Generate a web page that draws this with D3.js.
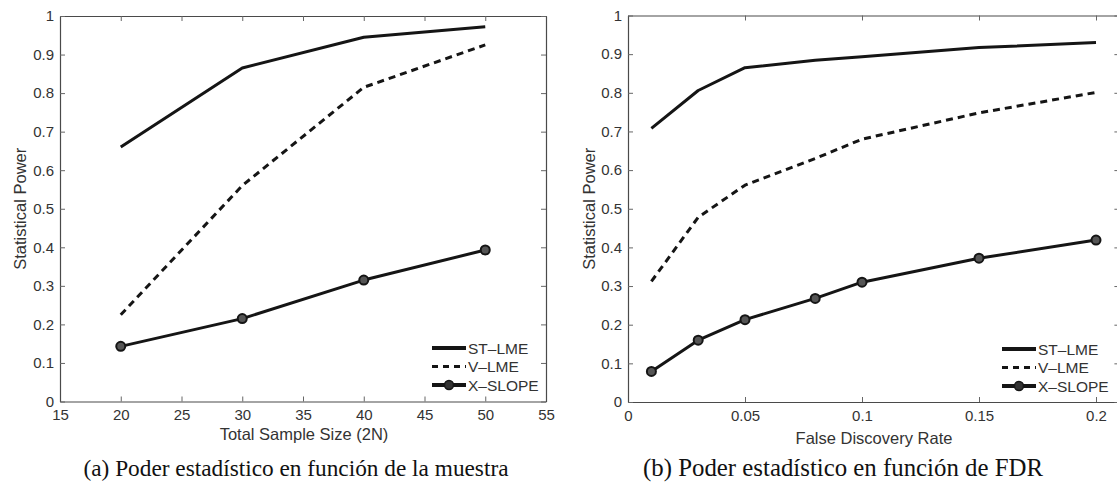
<!DOCTYPE html>
<html>
<head>
<meta charset="utf-8">
<script src="https://cdn.jsdelivr.net/npm/d3@7"></script>
<style>
  html, body { margin: 0; padding: 0; background: #fff; }
  svg { display: block; }
  .tick text { font-family: "Liberation Sans", Arial, sans-serif; font-size: 15px; fill: #333; }
  .axis-title { font-family: "Liberation Sans", Arial, sans-serif; font-size: 16.5px; fill: #333; }
  .legend text { font-family: "Liberation Sans", Arial, sans-serif; font-size: 15.5px; fill: #333; }
  .caption { font-family: "Liberation Serif", "DejaVu Serif", serif; fill: #111; }
</style>
</head>
<body>
<svg id="fig" width="1117" height="486"></svg>
<script>
// Panel (a): power against total sample size
const sampleSize = [20, 30, 40, 50];
const stLmeBySize = [0.66, 0.865, 0.945, 0.972];
const vLmeBySize = [0.225, 0.56, 0.815, 0.925];
const xSlopeBySize = [0.143, 0.215, 0.315, 0.393];

// Panel (b): power against false discovery rate
const fdrLevels = [0.01, 0.03, 0.05, 0.08, 0.1, 0.15, 0.2];
const stLmeByFdr = [0.708, 0.806, 0.865, 0.884, 0.893, 0.917, 0.930];
const vLmeByFdr = [0.312, 0.478, 0.561, 0.630, 0.680, 0.748, 0.801];
const xSlopeByFdr = [0.079, 0.160, 0.213, 0.268, 0.310, 0.372, 0.419];

// Tick labels
const sizeTicks = [15, 20, 25, 30, 35, 40, 45, 50, 55];
const fdrTicks = [0, 0.05, 0.1, 0.15, 0.2];
const powerTicks = [0, 0.1, 0.2, 0.3, 0.4, 0.5, 0.6, 0.7, 0.8, 0.9, 1];

const seriesNames = ["ST\u2013LME", "V\u2013LME", "X\u2013SLOPE"];
const axisTitles = { sizeX: "Total Sample Size (2N)", fdrX: "False Discovery Rate", y: "Statistical Power" };
const captions = ["(a) Poder estad\u00edstico en funci\u00f3n de la muestra", "(b) Poder estad\u00edstico en funci\u00f3n de FDR"];

const svg = d3.select("#fig");
const fmt = d3.format("~g");
const ink = "#151515";

function drawPanel(cfg) {
  const g = svg.append("g");
  const x = d3.scaleLinear().domain(cfg.xDomain).range(cfg.xRange);
  const y = d3.scaleLinear().domain([0, 1]).range(cfg.yRange);
  const [x0, x1] = cfg.xRange, [y0, y1] = cfg.yRange;

  // axes with inward ticks on all four sides
  const styleAxis = sel => {
    sel.selectAll(".domain").attr("stroke", "#4a4a4a").attr("stroke-width", 1.2);
    sel.selectAll(".tick line").attr("stroke", "#666").attr("stroke-width", 1);
  };
  g.append("g").attr("transform", `translate(0,${y0})`)
    .call(d3.axisBottom(x).tickValues(cfg.xTicks).tickFormat(fmt).tickSize(-5).tickSizeOuter(0).tickPadding(8))
    .call(styleAxis);
  g.append("g").attr("transform", `translate(0,${y1})`)
    .call(d3.axisTop(x).tickValues(cfg.xTicks).tickFormat("").tickSize(-5).tickSizeOuter(0))
    .call(styleAxis);
  g.append("g").attr("transform", `translate(${x0},0)`)
    .call(d3.axisLeft(y).tickValues(powerTicks).tickFormat(fmt).tickSize(-5).tickSizeOuter(0).tickPadding(6))
    .call(styleAxis);
  g.append("g").attr("transform", `translate(${x1},0)`)
    .call(d3.axisRight(y).tickValues(powerTicks).tickFormat("").tickSize(-5).tickSizeOuter(0))
    .call(styleAxis);

  // axis titles
  g.append("text").attr("class", "axis-title")
    .attr("x", cfg.xTitleX).attr("y", cfg.xTitleY).attr("text-anchor", "middle")
    .text(cfg.xTitle);
  g.append("text").attr("class", "axis-title")
    .attr("transform", `translate(${cfg.yTitleX},${(y0 + y1) / 2}) rotate(-90)`)
    .attr("text-anchor", "middle")
    .text(axisTitles.y);

  // series
  const line = d3.line().x(d => x(d[0])).y(d => y(d[1]));
  const zipped = vals => cfg.xs.map((v, i) => [v, vals[i]]);
  const styles = [
    { dash: null, marker: false },
    { dash: "7,5", marker: false },
    { dash: null, marker: true }
  ];
  cfg.series.forEach((vals, i) => {
    const pts = zipped(vals);
    g.append("path").datum(pts)
      .attr("d", line).attr("fill", "none").attr("stroke", ink)
      .attr("stroke-width", 3).attr("stroke-linejoin", "round")
      .attr("stroke-dasharray", styles[i].dash);
    if (styles[i].marker) {
      g.selectAll(null).data(pts).enter().append("circle")
        .attr("cx", d => x(d[0])).attr("cy", d => y(d[1])).attr("r", 4.5)
        .attr("fill", "#555").attr("stroke", ink).attr("stroke-width", 2);
    }
  });

  // legend (no frame)
  const lg = g.append("g").attr("class", "legend")
    .attr("transform", `translate(${cfg.legendX},${cfg.legendY})`);
  seriesNames.forEach((name, i) => {
    const row = lg.append("g").attr("transform", `translate(0,${i * 18.5})`);
    row.append("line").attr("x1", 0).attr("x2", 34).attr("y1", 0).attr("y2", 0)
      .attr("stroke", ink).attr("stroke-width", i === 1 ? 3 : 4)
      .attr("stroke-dasharray", styles[i].dash ? "6,5" : null);
    if (styles[i].marker) {
      row.append("circle").attr("cx", 17).attr("cy", 0).attr("r", 4.5)
        .attr("fill", "#333").attr("stroke", ink).attr("stroke-width", 1.5);
    }
    row.append("text").attr("x", 36).attr("y", 0).attr("dy", "0.36em").text(name);
  });

  // caption, sized to its column width
  const cap = g.append("text").attr("class", "caption")
    .attr("x", cfg.captionX).attr("y", 476).attr("text-anchor", "middle")
    .style("font-size", "18px").text(cfg.caption);
  const w = cap.node().getComputedTextLength();
  cap.style("font-size", (18 * cfg.captionWidth / w).toFixed(2) + "px");
}

drawPanel({
  xDomain: [15, 55], xRange: [60, 546], yRange: [401.5, 16],
  xTicks: sizeTicks, xs: sampleSize,
  series: [stLmeBySize, vLmeBySize, xSlopeBySize],
  xTitle: axisTitles.sizeX, xTitleX: 304, xTitleY: 440, yTitleX: 26,
  legendX: 432, legendY: 348,
  caption: captions[0], captionX: 296, captionWidth: 425
});

drawPanel({
  xDomain: [0, 0.21], xRange: [628, 1119.4], yRange: [402, 15.5],
  xTicks: fdrTicks, xs: fdrLevels,
  series: [stLmeByFdr, vLmeByFdr, xSlopeByFdr],
  xTitle: axisTitles.fdrX, xTitleX: 874, xTitleY: 444, yTitleX: 595,
  legendX: 1002, legendY: 349,
  caption: captions[1], captionX: 843, captionWidth: 400
});
</script>
</body>
</html>
